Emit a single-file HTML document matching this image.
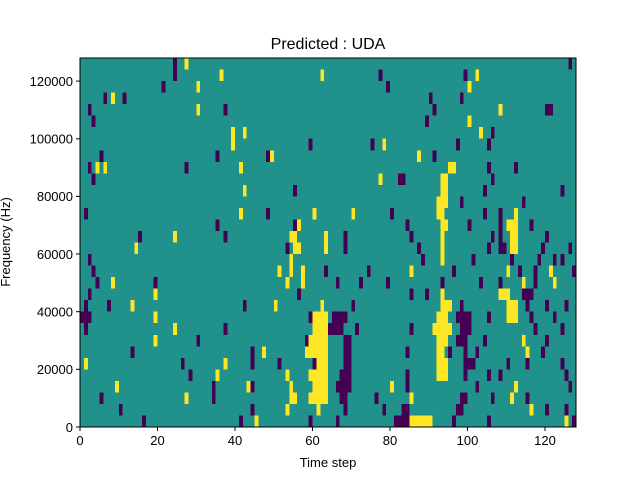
<!DOCTYPE html>
<html><head><meta charset="utf-8"><style>
body{margin:0;background:#fff;width:640px;height:480px;overflow:hidden;font-family:"Liberation Sans","DejaVu Sans",sans-serif}
.p{fill:#440154}.y{fill:#fde725}
</style></head><body>
<svg width="640" height="480" style="position:absolute;left:0;top:0">
<text x="328" y="49" font-size="16" text-anchor="middle" fill="#000">Predicted : UDA</text>
<svg x="80" y="58" width="496" height="369" viewBox="0 0 128 32" preserveAspectRatio="none" shape-rendering="crispEdges">
<rect x="0" y="0" width="128" height="32" fill="#21918c"/>
<g>
<!-- r31 y0 -->
<rect class="p" x="24" y="0" width="1" height="1"/><rect class="y" x="27" y="0" width="1" height="1"/><rect class="p" x="126" y="0" width="1" height="1"/>
<!-- r30 y1 -->
<rect class="p" x="24" y="1" width="1" height="1"/><rect class="y" x="36" y="1" width="1" height="1"/><rect class="y" x="62" y="1" width="1" height="1"/><rect class="p" x="77" y="1" width="1" height="1"/><rect class="p" x="99" y="1" width="1" height="1"/><rect class="y" x="102" y="1" width="1" height="1"/>
<!-- r29 y2 -->
<rect class="p" x="21" y="2" width="1" height="1"/><rect class="y" x="30" y="2" width="1" height="1"/><rect class="p" x="79" y="2" width="1" height="1"/><rect class="y" x="100" y="2" width="1" height="1"/>
<!-- r28 y3 -->
<rect class="p" x="6" y="3" width="1" height="1"/><rect class="y" x="8" y="3" width="1" height="1"/><rect class="p" x="11" y="3" width="1" height="1"/><rect class="p" x="90" y="3" width="1" height="1"/><rect class="p" x="98" y="3" width="1" height="1"/>
<!-- r27 y4 -->
<rect class="p" x="2" y="4" width="1" height="1"/><rect class="y" x="30" y="4" width="1" height="1"/><rect class="p" x="37" y="4" width="1" height="1"/><rect class="p" x="91" y="4" width="1" height="1"/><rect class="y" x="108" y="4" width="1" height="1"/><rect class="p" x="120" y="4" width="2" height="1"/>
<!-- r26 y5 -->
<rect class="p" x="3" y="5" width="1" height="1"/><rect class="p" x="89" y="5" width="1" height="1"/><rect class="y" x="100" y="5" width="1" height="1"/>
<!-- r25 y6 -->
<rect class="y" x="39" y="6" width="1" height="1"/><rect class="y" x="42" y="6" width="1" height="1"/><rect class="y" x="103" y="6" width="1" height="1"/><rect class="p" x="106" y="6" width="1" height="1"/>
<!-- r24 y7 -->
<rect class="y" x="39" y="7" width="1" height="1"/><rect class="p" x="59" y="7" width="1" height="1"/><rect class="p" x="75" y="7" width="1" height="1"/><rect class="y" x="78" y="7" width="1" height="1"/><rect class="p" x="97" y="7" width="1" height="1"/><rect class="p" x="105" y="7" width="1" height="1"/>
<!-- r23 y8 -->
<rect class="p" x="5" y="8" width="1" height="1"/><rect class="p" x="35" y="8" width="1" height="1"/><rect class="p" x="48" y="8" width="1" height="1"/><rect class="y" x="49" y="8" width="1" height="1"/><rect class="y" x="87" y="8" width="1" height="1"/><rect class="p" x="91" y="8" width="1" height="1"/>
<!-- r22 y9 -->
<rect class="p" x="2" y="9" width="1" height="1"/><rect class="y" x="4" y="9" width="1" height="1"/><rect class="y" x="6" y="9" width="1" height="1"/><rect class="p" x="27" y="9" width="1" height="1"/><rect class="y" x="41" y="9" width="1" height="1"/><rect class="y" x="95" y="9" width="2" height="1"/><rect class="p" x="105" y="9" width="1" height="1"/><rect class="p" x="112" y="9" width="1" height="1"/>
<!-- r21 y10 -->
<rect class="p" x="3" y="10" width="1" height="1"/><rect class="y" x="77" y="10" width="1" height="1"/><rect class="p" x="82" y="10" width="2" height="1"/><rect class="y" x="93" y="10" width="2" height="1"/><rect class="p" x="106" y="10" width="1" height="1"/>
<!-- r20 y11 -->
<rect class="y" x="42" y="11" width="1" height="1"/><rect class="p" x="55" y="11" width="1" height="1"/><rect class="y" x="93" y="11" width="2" height="1"/><rect class="p" x="104" y="11" width="1" height="1"/><rect class="p" x="124" y="11" width="1" height="1"/>
<!-- r19 y12 -->
<rect class="y" x="92" y="12" width="3" height="1"/><rect class="p" x="98" y="12" width="1" height="1"/><rect class="p" x="114" y="12" width="1" height="1"/>
<!-- r18 y13 -->
<rect class="p" x="1" y="13" width="1" height="1"/><rect class="y" x="41" y="13" width="1" height="1"/><rect class="p" x="48" y="13" width="1" height="1"/><rect class="y" x="60" y="13" width="1" height="1"/><rect class="y" x="70" y="13" width="1" height="1"/><rect class="p" x="80" y="13" width="1" height="1"/><rect class="y" x="92" y="13" width="2" height="1"/><rect class="p" x="104" y="13" width="1" height="1"/><rect class="p" x="108" y="13" width="1" height="1"/><rect class="y" x="112" y="13" width="1" height="1"/>
<!-- r17 y14 -->
<rect class="p" x="35" y="14" width="1" height="1"/><rect class="p" x="55" y="14" width="1" height="1"/><rect class="y" x="56" y="14" width="1" height="1"/><rect class="p" x="84" y="14" width="1" height="1"/><rect class="y" x="93" y="14" width="2" height="1"/><rect class="p" x="100" y="14" width="1" height="1"/><rect class="p" x="108" y="14" width="1" height="1"/><rect class="y" x="110" y="14" width="3" height="1"/><rect class="p" x="116" y="14" width="1" height="1"/>
<!-- r16 y15 -->
<rect class="p" x="15" y="15" width="1" height="1"/><rect class="y" x="24" y="15" width="1" height="1"/><rect class="p" x="37" y="15" width="1" height="1"/><rect class="y" x="54" y="15" width="2" height="1"/><rect class="y" x="63" y="15" width="1" height="1"/><rect class="p" x="68" y="15" width="1" height="1"/><rect class="p" x="85" y="15" width="1" height="1"/><rect class="y" x="93" y="15" width="1" height="1"/><rect class="p" x="106" y="15" width="1" height="1"/><rect class="p" x="108" y="15" width="1" height="1"/><rect class="y" x="111" y="15" width="2" height="1"/><rect class="p" x="120" y="15" width="1" height="1"/>
<!-- r15 y16 -->
<rect class="y" x="14" y="16" width="1" height="1"/><rect class="p" x="53" y="16" width="1" height="1"/><rect class="y" x="55" y="16" width="2" height="1"/><rect class="y" x="63" y="16" width="1" height="1"/><rect class="p" x="68" y="16" width="1" height="1"/><rect class="p" x="87" y="16" width="1" height="1"/><rect class="y" x="93" y="16" width="1" height="1"/><rect class="p" x="105" y="16" width="1" height="1"/><rect class="p" x="108" y="16" width="2" height="1"/><rect class="y" x="111" y="16" width="2" height="1"/><rect class="p" x="119" y="16" width="1" height="1"/><rect class="p" x="126" y="16" width="1" height="1"/>
<!-- r14 y17 -->
<rect class="p" x="2" y="17" width="1" height="1"/><rect class="y" x="54" y="17" width="1" height="1"/><rect class="p" x="88" y="17" width="1" height="1"/><rect class="y" x="93" y="17" width="1" height="1"/><rect class="p" x="101" y="17" width="1" height="1"/><rect class="p" x="111" y="17" width="1" height="1"/><rect class="p" x="118" y="17" width="1" height="1"/><rect class="p" x="122" y="17" width="1" height="1"/><rect class="p" x="124" y="17" width="1" height="1"/>
<!-- r13 y18 -->
<rect class="p" x="3" y="18" width="1" height="1"/><rect class="y" x="51" y="18" width="1" height="1"/><rect class="y" x="54" y="18" width="1" height="1"/><rect class="y" x="57" y="18" width="1" height="1"/><rect class="p" x="63" y="18" width="1" height="1"/><rect class="p" x="74" y="18" width="1" height="1"/><rect class="y" x="85" y="18" width="1" height="1"/><rect class="p" x="96" y="18" width="1" height="1"/><rect class="y" x="110" y="18" width="1" height="1"/><rect class="p" x="113" y="18" width="1" height="1"/><rect class="p" x="117" y="18" width="1" height="1"/><rect class="y" x="121" y="18" width="1" height="1"/><rect class="p" x="127" y="18" width="1" height="1"/>
<!-- r12 y19 -->
<rect class="p" x="4" y="19" width="1" height="1"/><rect class="y" x="8" y="19" width="1" height="1"/><rect class="p" x="19" y="19" width="1" height="1"/><rect class="y" x="53" y="19" width="1" height="1"/><rect class="y" x="57" y="19" width="1" height="1"/><rect class="p" x="66" y="19" width="1" height="1"/><rect class="p" x="72" y="19" width="1" height="1"/><rect class="p" x="79" y="19" width="1" height="1"/><rect class="p" x="93" y="19" width="1" height="1"/><rect class="p" x="103" y="19" width="1" height="1"/><rect class="p" x="108" y="19" width="1" height="1"/><rect class="y" x="114" y="19" width="1" height="1"/><rect class="p" x="117" y="19" width="1" height="1"/><rect class="y" x="122" y="19" width="1" height="1"/>
<!-- r11 y20 -->
<rect class="p" x="2" y="20" width="1" height="1"/><rect class="y" x="19" y="20" width="1" height="1"/><rect class="p" x="56" y="20" width="1" height="1"/><rect class="p" x="85" y="20" width="1" height="1"/><rect class="p" x="89" y="20" width="1" height="1"/><rect class="y" x="93" y="20" width="1" height="1"/><rect class="y" x="108" y="20" width="3" height="1"/><rect class="p" x="114" y="20" width="3" height="1"/>
<!-- r10 y21 -->
<rect class="p" x="1" y="21" width="1" height="1"/><rect class="p" x="7" y="21" width="1" height="1"/><rect class="y" x="13" y="21" width="1" height="1"/><rect class="p" x="42" y="21" width="1" height="1"/><rect class="y" x="50" y="21" width="1" height="1"/><rect class="y" x="62" y="21" width="1" height="1"/><rect class="p" x="70" y="21" width="1" height="1"/><rect class="y" x="93" y="21" width="3" height="1"/><rect class="p" x="98" y="21" width="1" height="1"/><rect class="y" x="110" y="21" width="3" height="1"/><rect class="p" x="115" y="21" width="1" height="1"/><rect class="p" x="120" y="21" width="1" height="1"/><rect class="p" x="125" y="21" width="1" height="1"/>
<!-- r9 y22 -->
<rect class="p" x="0" y="22" width="3" height="1"/><rect class="y" x="19" y="22" width="1" height="1"/><rect class="p" x="59" y="22" width="1" height="1"/><rect class="y" x="60" y="22" width="4" height="1"/><rect class="p" x="65" y="22" width="4" height="1"/><rect class="y" x="92" y="22" width="3" height="1"/><rect class="p" x="97" y="22" width="4" height="1"/><rect class="p" x="105" y="22" width="1" height="1"/><rect class="y" x="110" y="22" width="3" height="1"/><rect class="p" x="116" y="22" width="1" height="1"/><rect class="p" x="122" y="22" width="1" height="1"/>
<!-- r8 y23 -->
<rect class="p" x="1" y="23" width="1" height="1"/><rect class="y" x="24" y="23" width="1" height="1"/><rect class="p" x="37" y="23" width="1" height="1"/><rect class="y" x="60" y="23" width="4" height="1"/><rect class="p" x="64" y="23" width="4" height="1"/><rect class="p" x="71" y="23" width="1" height="1"/><rect class="p" x="85" y="23" width="1" height="1"/><rect class="y" x="91" y="23" width="5" height="1"/><rect class="p" x="98" y="23" width="3" height="1"/><rect class="p" x="117" y="23" width="1" height="1"/><rect class="p" x="124" y="23" width="1" height="1"/>
<!-- r7 y24 -->
<rect class="y" x="19" y="24" width="1" height="1"/><rect class="p" x="30" y="24" width="1" height="1"/><rect class="p" x="58" y="24" width="1" height="1"/><rect class="y" x="59" y="24" width="5" height="1"/><rect class="p" x="68" y="24" width="2" height="1"/><rect class="y" x="92" y="24" width="3" height="1"/><rect class="p" x="97" y="24" width="3" height="1"/><rect class="p" x="104" y="24" width="1" height="1"/><rect class="y" x="114" y="24" width="1" height="1"/><rect class="p" x="120" y="24" width="1" height="1"/>
<!-- r6 y25 -->
<rect class="p" x="13" y="25" width="1" height="1"/><rect class="p" x="44" y="25" width="1" height="1"/><rect class="y" x="47" y="25" width="1" height="1"/><rect class="y" x="58" y="25" width="6" height="1"/><rect class="p" x="68" y="25" width="2" height="1"/><rect class="p" x="84" y="25" width="1" height="1"/><rect class="y" x="92" y="25" width="2" height="1"/><rect class="p" x="95" y="25" width="1" height="1"/><rect class="p" x="99" y="25" width="1" height="1"/><rect class="p" x="102" y="25" width="1" height="1"/><rect class="y" x="115" y="25" width="1" height="1"/><rect class="p" x="119" y="25" width="1" height="1"/>
<!-- r5 y26 -->
<rect class="y" x="1" y="26" width="1" height="1"/><rect class="p" x="26" y="26" width="1" height="1"/><rect class="y" x="37" y="26" width="1" height="1"/><rect class="p" x="44" y="26" width="1" height="1"/><rect class="p" x="51" y="26" width="1" height="1"/><rect class="p" x="60" y="26" width="1" height="1"/><rect class="y" x="61" y="26" width="3" height="1"/><rect class="p" x="68" y="26" width="2" height="1"/><rect class="y" x="92" y="26" width="3" height="1"/><rect class="p" x="99" y="26" width="3" height="1"/><rect class="p" x="110" y="26" width="1" height="1"/><rect class="p" x="115" y="26" width="1" height="1"/><rect class="p" x="124" y="26" width="1" height="1"/>
<!-- r4 y27 -->
<rect class="p" x="28" y="27" width="1" height="1"/><rect class="y" x="35" y="27" width="1" height="1"/><rect class="y" x="53" y="27" width="1" height="1"/><rect class="y" x="59" y="27" width="5" height="1"/><rect class="p" x="67" y="27" width="3" height="1"/><rect class="p" x="84" y="27" width="1" height="1"/><rect class="y" x="92" y="27" width="3" height="1"/><rect class="p" x="99" y="27" width="1" height="1"/><rect class="p" x="105" y="27" width="1" height="1"/><rect class="p" x="108" y="27" width="1" height="1"/><rect class="p" x="125" y="27" width="1" height="1"/>
<!-- r3 y28 -->
<rect class="y" x="9" y="28" width="1" height="1"/><rect class="p" x="34" y="28" width="1" height="1"/><rect class="y" x="43" y="28" width="1" height="1"/><rect class="p" x="44" y="28" width="1" height="1"/><rect class="y" x="54" y="28" width="1" height="1"/><rect class="y" x="60" y="28" width="4" height="1"/><rect class="p" x="66" y="28" width="4" height="1"/><rect class="y" x="80" y="28" width="1" height="1"/><rect class="p" x="84" y="28" width="1" height="1"/><rect class="p" x="102" y="28" width="1" height="1"/><rect class="y" x="112" y="28" width="1" height="1"/><rect class="p" x="126" y="28" width="1" height="1"/>
<!-- r2 y29 -->
<rect class="p" x="5" y="29" width="1" height="1"/><rect class="y" x="27" y="29" width="1" height="1"/><rect class="p" x="34" y="29" width="1" height="1"/><rect class="y" x="54" y="29" width="2" height="1"/><rect class="y" x="59" y="29" width="5" height="1"/><rect class="p" x="67" y="29" width="2" height="1"/><rect class="p" x="76" y="29" width="1" height="1"/><rect class="y" x="85" y="29" width="1" height="1"/><rect class="p" x="98" y="29" width="2" height="1"/><rect class="p" x="106" y="29" width="1" height="1"/><rect class="y" x="111" y="29" width="1" height="1"/><rect class="p" x="115" y="29" width="1" height="1"/>
<!-- r1 y30 -->
<rect class="p" x="10" y="30" width="1" height="1"/><rect class="p" x="44" y="30" width="1" height="1"/><rect class="y" x="53" y="30" width="1" height="1"/><rect class="y" x="61" y="30" width="1" height="1"/><rect class="p" x="68" y="30" width="1" height="1"/><rect class="p" x="78" y="30" width="1" height="1"/><rect class="p" x="83" y="30" width="2" height="1"/><rect class="p" x="97" y="30" width="2" height="1"/><rect class="y" x="116" y="30" width="1" height="1"/><rect class="p" x="120" y="30" width="1" height="1"/><rect class="p" x="125" y="30" width="1" height="1"/>
<!-- r0 y31 -->
<rect class="p" x="16" y="31" width="1" height="1"/><rect class="p" x="41" y="31" width="1" height="1"/><rect class="y" x="45" y="31" width="1" height="1"/><rect class="p" x="59" y="31" width="1" height="1"/><rect class="p" x="66" y="31" width="1" height="1"/><rect class="p" x="81" y="31" width="4" height="1"/><rect class="y" x="85" y="31" width="6" height="1"/><rect class="p" x="96" y="31" width="1" height="1"/><rect class="p" x="105" y="31" width="1" height="1"/><rect class="y" x="125" y="31" width="1" height="1"/><rect class="p" x="127" y="31" width="1" height="1"/>
</g>
</svg>
<rect x="80" y="58" width="496" height="369" fill="none" stroke="#000" stroke-width="1"/>
<g stroke="#000" stroke-width="1">
<line x1="80" y1="427" x2="80" y2="431"/><line x1="157.5" y1="427" x2="157.5" y2="431"/><line x1="235" y1="427" x2="235" y2="431"/><line x1="312.5" y1="427" x2="312.5" y2="431"/><line x1="390" y1="427" x2="390" y2="431"/><line x1="467.5" y1="427" x2="467.5" y2="431"/><line x1="545" y1="427" x2="545" y2="431"/>
<line x1="76" y1="427" x2="80" y2="427"/><line x1="76" y1="369.3" x2="80" y2="369.3"/><line x1="76" y1="311.7" x2="80" y2="311.7"/><line x1="76" y1="254" x2="80" y2="254"/><line x1="76" y1="196.4" x2="80" y2="196.4"/><line x1="76" y1="138.8" x2="80" y2="138.8"/><line x1="76" y1="81.1" x2="80" y2="81.1"/>
</g>
<g font-size="13" fill="#000" text-anchor="middle">
<text x="80" y="445">0</text><text x="157.5" y="445">20</text><text x="235" y="445">40</text><text x="312.5" y="445">60</text><text x="390" y="445">80</text><text x="467.5" y="445">100</text><text x="545" y="445">120</text>
<text x="328" y="467">Time step</text>
</g>
<g font-size="13" fill="#000" text-anchor="end">
<text x="73" y="432">0</text><text x="73" y="374">20000</text><text x="73" y="316.5">40000</text><text x="73" y="259">60000</text><text x="73" y="201">80000</text><text x="73" y="143.5">100000</text><text x="73" y="86">120000</text>
</g>
<text transform="translate(10,242) rotate(-90)" font-size="13" text-anchor="middle" fill="#000">Frequency (Hz)</text>
</svg>
</body></html>
